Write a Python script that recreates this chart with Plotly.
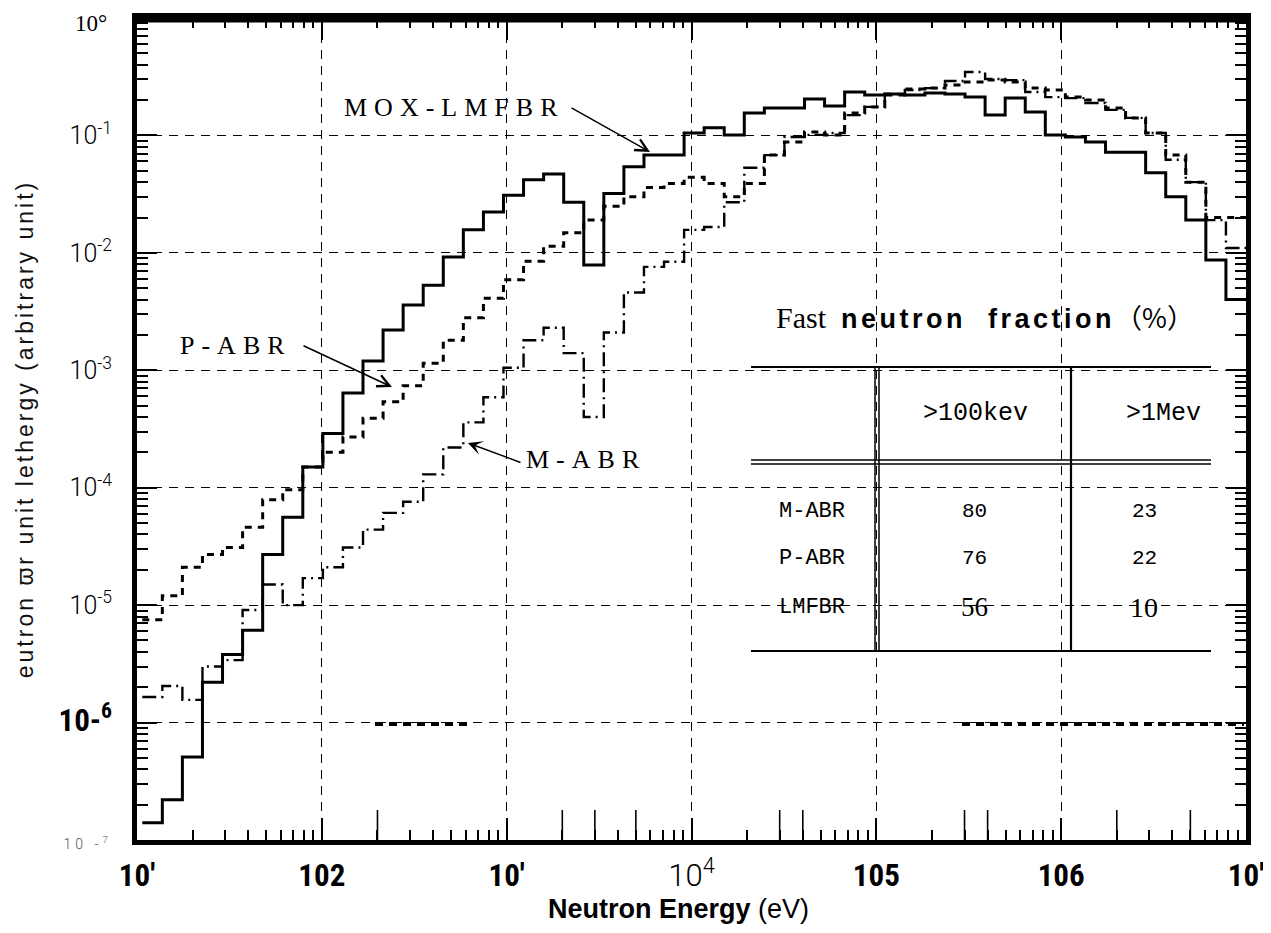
import math
import plotly.graph_objects as go

# ---------------- data ----------------
# group boundaries (eV), 0.25-lethargy group structure, increasing energy
energy_edges = [10.677, 13.710, 17.603, 22.603, 29.023, 37.267, 47.851, 61.442, 78.893,
                101.30, 130.07, 167.02, 214.45, 275.36, 353.57, 453.99, 582.94, 748.52,
                961.12, 1234.1, 1584.6, 2034.7, 2612.6, 3354.6, 4307.4, 5530.8, 7101.7,
                9118.8, 11709, 15034, 19305, 24788, 31828, 40868, 52475, 67379, 86517,
                111090, 142640, 183160, 235180, 301970, 387740, 497870, 639280, 820850,
                1054000, 1353400, 1737700, 2231300, 2865000, 3678800, 4723700, 6065300,
                7788000, 10000000]

# neutron flux per unit lethargy (arbitrary unit), one value per group, increasing energy
mox_lmfbr = [1.4e-7, 2.2e-7, 5.1e-7, 2.2e-6, 3.8e-6, 6.1e-6, 2.7e-5, 5.6e-5, 1.5e-4, 2.9e-4,
             6.4e-4, 1.2e-3, 2.2e-3, 3.6e-3, 5.3e-3, 9.2e-3, 1.57e-2, 2.23e-2, 3.1e-2, 4.2e-2,
             4.7e-2, 2.7e-2, 7.9e-3, 3.2e-2, 5.4e-2, 6.8e-2, 6.8e-2, 0.105, 0.116, 0.101,
             0.155, 0.171, 0.171, 0.204, 0.178, 0.234, 0.221, 0.225, 0.221, 0.230,
             0.225, 0.212, 0.149, 0.208, 0.158, 0.101, 0.097, 0.088, 0.072, 0.072,
             0.048, 0.030, 0.019, 0.0087, 0.0040]

p_abr = [7.5e-6, 1.2e-5, 2.1e-5, 2.7e-5, 3.1e-5, 4.6e-5, 7.9e-5, 9.6e-5, 1.5e-4, 2.0e-4,
         2.7e-4, 3.9e-4, 5.4e-4, 7.4e-4, 1.15e-3, 1.8e-3, 2.8e-3, 4.1e-3, 5.9e-3, 8.5e-3,
         1.14e-2, 1.48e-2, 1.9e-2, 2.5e-2, 3.0e-2, 3.6e-2, 3.9e-2, 4.4e-2, 3.9e-2, 3.0e-2,
         3.9e-2, 6.8e-2, 8.8e-2, 0.107, 0.101, 0.155, 0.175, 0.221, 0.249, 0.253,
         0.269, 0.285, 0.296, 0.285, 0.253, 0.244, 0.212, 0.200, 0.171, 0.141,
         0.105, 0.068, 0.040, 0.020, 0.020]

m_abr = [1.65e-6, 2.05e-6, 1.56e-6, 3.0e-6, 3.4e-6, 9.1e-6, 1.5e-5, 1.0e-5, 1.7e-5, 2.1e-5,
         3.1e-5, 4.4e-5, 6.1e-5, 7.6e-5, 1.3e-4, 2.2e-4, 3.6e-4, 5.9e-4, 1.05e-3, 1.8e-3,
         2.3e-3, 1.4e-3, 4.0e-4, 2.1e-3, 4.6e-3, 7.6e-3, 8.4e-3, 1.57e-2, 1.66e-2, 2.7e-2,
         5.3e-2, 6.8e-2, 9.7e-2, 0.101, 0.105, 0.149, 0.175, 0.225, 0.244, 0.253,
         0.291, 0.347, 0.302, 0.296, 0.234, 0.212, 0.208, 0.189, 0.165, 0.141,
         0.105, 0.062, 0.040, 0.019, 0.011]

# fast neutron fraction table (%)
table_cols = [">100kev", ">1Mev"]
table_rows = ["M-ABR", "P-ABR", "LMFBR"]
frac_100kev = ["80", "76", "56"]
frac_1mev = ["23", "22", "10"]

# axis ticks
x_tickvals = [1e1, 1e2, 1e3, 1e4, 1e5, 1e6, 1e7]
y_tickvals = [1e0, 1e-1, 1e-2, 1e-3, 1e-4, 1e-5, 1e-6, 1e-7]
top_label = "10°"
long_bottom_ticks = [2e2, 2e3, 3e3, 5e3, 3e4, 4e4, 3e5, 4e5, 2e6, 5e6]

NARROW = "'Liberation Sans Narrow','Arial Narrow','Roboto Condensed',Roboto,sans-serif"
SERIF = "'Liberation Serif','DejaVu Serif',serif"
MONO = "'Liberation Mono','DejaVu Sans Mono',monospace"

x_ticktext = ["10′", "102", "10′",
              "<span style=\"font-family:Roboto;font-weight:300;font-size:31px\">10<sup>4</sup></span>",
              "105", "106", "10′"]
y_ticktext = ["",   # the 10° label sits slightly lower, drawn below as an annotation
              "10<sup>-1</sup>", "10<sup>-2</sup>", "10<sup>-3</sup>", "10<sup>-4</sup>",
              "10<sup>-5</sup>",
              "<span style=\"font-family:" + NARROW + ";font-weight:bold;font-size:31px\">10-<sup>6</sup></span>",
              "<span style=\"font-size:14px;color:#555;letter-spacing:4px\">10 -<sup>7</sup></span>"]

# ---------------- geometry (page pixels; the page body adds an 8px offset) ----------------
OFF = 8
W, H = 1271 - 2 * OFF, 933 - 2 * OFF
L, R, T, B = 137, 1246, 18, 840   # plot frame in page pixels
XMIN, XMAX = 1, 7                 # log10 x range
def px(xp):
    return (xp - L) / (R - L)
def py(yp):
    return (B - yp) / (B - T)

fig = go.Figure()

def step_trace(vals, name, width, dash):
    return go.Scatter(x=energy_edges, y=vals + [vals[-1]], mode="lines", name=name,
                      line=dict(shape="hv", color="black", width=width, dash=dash),
                      showlegend=False, hoverinfo="skip")

fig.add_trace(step_trace(p_abr, "P-ABR", 3, "7px,6px"))
fig.add_trace(step_trace(m_abr, "M-ABR", 2.4, "14px,5px,2px,5px"))
fig.add_trace(step_trace(mox_lmfbr, "MOX-LMFBR", 3, "solid"))

minor_x = [m * 10 ** e for e in range(1, 7) for m in range(2, 10)]
minor_y = [m * 10.0 ** e for e in range(-7, 0) for m in range(2, 10)]

fig.update_xaxes(type="log", range=[XMIN, XMAX], tickvals=x_tickvals, ticktext=x_ticktext,
                 ticks="inside", ticklen=22, tickwidth=2, tickcolor="black",
                 showline=True, linewidth=5, linecolor="black", mirror="allticks",
                 showgrid=True, gridcolor="black", gridwidth=1.3, griddash="9px,7px",
                 minor=dict(tickvals=minor_x, ticks="inside", ticklen=10, tickwidth=2,
                            tickcolor="black", showgrid=False),
                 tickfont=dict(family=NARROW, size=31, color="black", weight="bold"),
                 ticklabelstandoff=4, ticklabeloverflow="allow", zeroline=False)
fig.update_yaxes(type="log", range=[-7, 0], tickvals=y_tickvals, ticktext=y_ticktext,
                 ticks="inside", ticklen=20, tickwidth=2, tickcolor="black",
                 showline=True, linewidth=5, linecolor="black", mirror="allticks",
                 showgrid=True, gridcolor="black", gridwidth=1.3, griddash="9px,7px",
                 minor=dict(tickvals=minor_y, ticks="inside", ticklen=11, tickwidth=2,
                            tickcolor="black", showgrid=False),
                 tickfont=dict(family="Roboto", size=25, color="black", weight=300),
                 ticklabelstandoff=15, ticklabeloverflow="allow", zeroline=False,
                 title=dict(text="<span style=\"letter-spacing:3px\">eutron ϖr unit lethergy (arbitrary unit)</span>",
                            standoff=20,
                            font=dict(family="'Liberation Sans',DejaVu Sans,sans-serif", size=23, color="#111")))

shapes = []
# heavy top frame band
shapes.append(dict(type="line", xref="paper", yref="paper", x0=0, x1=1.0, y0=1, y1=1,
                   line=dict(color="black", width=9)))
# longer bottom ticks
for v in long_bottom_ticks:
    xp = (math.log10(v) - XMIN) / (XMAX - XMIN)
    shapes.append(dict(type="line", xref="paper", yref="paper", x0=xp, x1=xp,
                       y0=0, y1=30 / (B - T), line=dict(color="black", width=1.6)))
# heavy dashed pieces on the 1e-6 line
for xa, xb in [(375, 468), (962, 1244)]:
    shapes.append(dict(type="line", xref="paper", yref="paper", x0=px(xa), x1=px(xb),
                       y0=py(724), y1=py(724), line=dict(color="black", width=4, dash="8px,6px")))
# table frame
tx0, tx1 = 751, 1211
for yy, w in [(367, 2), (460, 1.5), (464, 1.5), (651, 2.2)]:
    shapes.append(dict(type="line", xref="paper", yref="paper", x0=px(tx0), x1=px(tx1),
                       y0=py(yy), y1=py(yy), line=dict(color="black", width=w)))
for xx, w in [(875, 1.5), (879, 1.5), (1071, 2.2)]:
    shapes.append(dict(type="line", xref="paper", yref="paper", x0=px(xx), x1=px(xx),
                       y0=py(367), y1=py(651), line=dict(color="black", width=w)))
fig.update_layout(shapes=shapes)

ann = []
def txt(x, y, s, size, family, **kw):
    d = dict(xref="paper", yref="paper", x=px(x), y=py(y), text=s, showarrow=False,
             font=dict(size=size, family=family, color="black"), xanchor="center", yanchor="middle")
    d.update(kw)
    ann.append(d)

# top y label (10^0) and x axis title
txt(109, 24, top_label, 23, SERIF, xanchor="right")
txt(678, 909, "<b>Neutron Energy</b> (eV)", 27, "'Liberation Sans',Arial,sans-serif")

# curve labels with arrows
spaced = "letter-spacing:7px"
txt(454, 108, f"<span style=\"{spaced}\">MOX-LMFBR</span>", 26, SERIF)
txt(236, 345, f"<span style=\"{spaced}\">P-ABR</span>", 26, SERIF)
txt(586, 459, f"<span style=\"{spaced}\">M-ABR</span>", 26, SERIF)

def arrow(tip, tail, head):
    ann.append(dict(xref="paper", yref="paper", x=px(tip[0]), y=py(tip[1]), text="",
                    showarrow=True, arrowhead=head, arrowsize=1.6, arrowwidth=1.5,
                    arrowcolor="black", ax=tail[0] - tip[0], ay=tail[1] - tip[1]))
arrow((650, 152), (570, 107), 5)
arrow((392, 387), (302, 345), 5)
arrow((468, 443), (522, 463), 3)

# table texts
txt(985, 316, "<span style=\"font-family:'Liberation Serif';font-size:30px\">Fast</span>\u00a0\u00a0"
    "<b><span style=\"letter-spacing:3.5px\">neutron\u00a0\u00a0fraction</span></b>"
    "<span style=\"font-family:'Noto Sans CJK JP'\">（%）</span>",
    27, "'Liberation Sans',Arial,sans-serif")
txt(975, 413, table_cols[0], 25, MONO)
txt(1163, 413, table_cols[1], 25, MONO)
row_y = [511, 558, 607]
for i, r in enumerate(table_rows):
    txt(812, row_y[i], r, 22, MONO)
    serif = (i == 2)
    txt(974, row_y[i], frac_100kev[i], 27 if serif else 21, SERIF if serif else MONO)
    txt(1144, row_y[i], frac_1mev[i], 28 if serif else 21, SERIF if serif else MONO)

fig.update_layout(annotations=ann, width=W, height=H,
                  margin=dict(l=L - OFF, r=W - (R - OFF), t=T - OFF, b=H - (B - OFF), autoexpand=False),
                  paper_bgcolor="white", plot_bgcolor="white", showlegend=False)

fig.write_html("out.html")
